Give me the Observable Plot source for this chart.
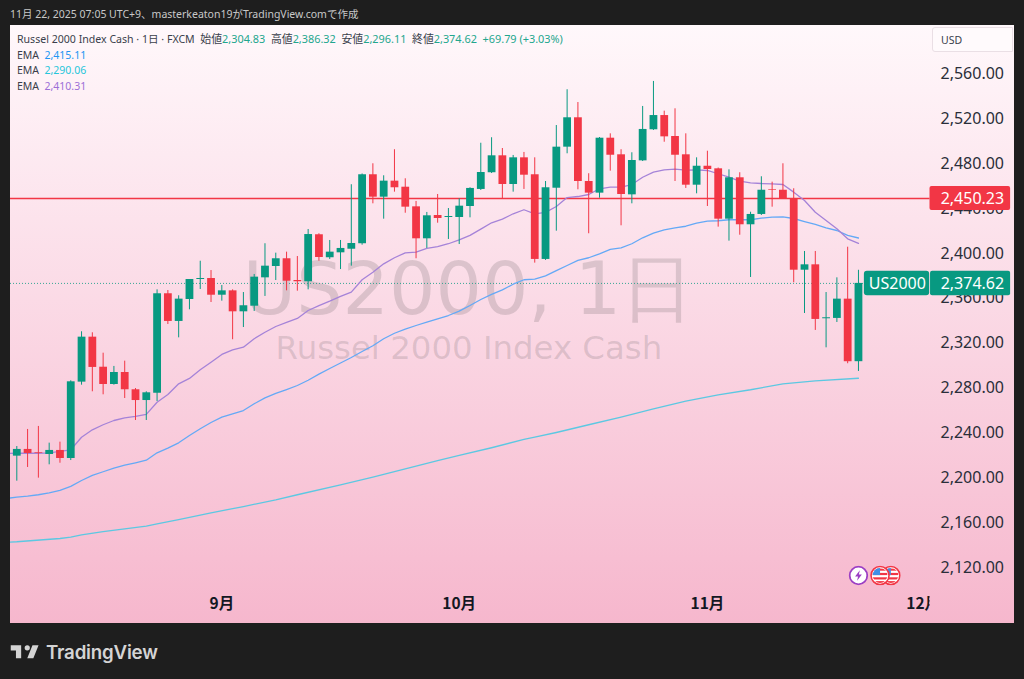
<!DOCTYPE html>
<html lang="ja">
<head>
<meta charset="utf-8">
<script src="https://cdn.jsdelivr.net/npm/d3@7"></script>
<script src="https://cdn.jsdelivr.net/npm/@observablehq/plot@0.6"></script>
<style>
html,body{margin:0;padding:0;background:#1e1e1e;overflow:hidden}
#wrap{position:relative;width:1024px;height:679px;font-family:"Noto Sans","Noto Sans CJK JP",sans-serif}
#wrap svg{display:block;position:relative}
#panel{position:absolute;left:10px;top:25px;width:1004px;height:598px;background:linear-gradient(#fff8fb,#f6b7cd)}
.t{position:absolute;white-space:pre;line-height:16px}
#stamp{left:10px;top:6px;font-size:10.5px;color:#c8c8c8}
.leg{left:17px;font-size:10.5px;color:#3a3f4b}
.leg b{font-weight:400}
.row1{font-size:10.88px}
.row1 i{font-style:normal;font-size:10.58px}
#usd{left:932px;top:27px;width:81px;height:25px;background:#fffafc;border:1px solid #eadfe5;border-radius:3px 0 0 3px;box-sizing:border-box;font-size:10.5px;color:#3a3f4b;line-height:24px;padding-left:8px}
#logo{left:46px;top:641px;font-family:Inter,"Noto Sans",sans-serif;font-weight:600;font-size:18.7px;line-height:24px;color:#d4d4d4;letter-spacing:-.2px}
#mark{position:absolute;left:9.3px;top:640px}
</style>
</head>
<body>
<div id="wrap"><div id="panel"></div></div>
<script>
// candles, oldest first (prices)
const opens  = [2220.6,2226.6,2223.6,2222.1,2225.7,2218.5,2286.6,2326.7,2299.9,2284.5,2295.2,2279.8,2270.2,2276.7,2365.4,2340.7,2360.3,2378.1,2379,2364.1,2368,2349.3,2354.3,2379.6,2389.7,2396.6,2377.2,2376.1,2418,2397.5,2401.9,2405.1,2410,2471.5,2451.5,2465.8,2460.4,2442.9,2414.4,2435.2,2433.4,2433.4,2443.2,2458.4,2473.3,2488.4,2462.8,2486.6,2471.5,2396,2459.5,2496.1,2522.3,2465.5,2455.1,2504.1,2489.3,2453.6,2483.9,2511.6,2524.3,2505.6,2489.3,2462.2,2479.1,2476.8,2431.9,2468.8,2426.9,2436.1,2458.1,2457.7,2450.3,2386.4,2391.2,2343.1,2343.4,2360.6,2304.83];
const highs  = [2229.2,2244.4,2247.1,2232.2,2233.1,2287.8,2331.5,2330.6,2312.4,2300.6,2305.3,2280.9,2278,2368.9,2368.3,2363.6,2378.1,2394.4,2386.1,2372.8,2368.9,2366.5,2382.6,2410,2401.6,2402.5,2398.6,2422.7,2418.9,2412.9,2412.9,2462.6,2472.2,2481.3,2470.6,2493.8,2467.9,2447.7,2437.9,2453.9,2441.4,2450.1,2459.9,2499.6,2504.5,2494.9,2488.7,2491.4,2486.6,2465.5,2515.4,2547.3,2535.9,2472.4,2504.7,2508,2493.8,2491.1,2532.4,2554.7,2528.2,2530.3,2508,2486.6,2492.5,2477.5,2475.9,2473.3,2438.1,2469.7,2464.9,2481.3,2459,2403.1,2403.1,2366.5,2379.6,2406.9,2386.32];
const lows   = [2198.3,2210.5,2201,2212.9,2214.3,2216.7,2283.9,2278,2275.3,2283.9,2272,2252.4,2252.4,2269.3,2338,2326.1,2351.1,2369.2,2357.6,2358.8,2324.4,2335.3,2349.6,2363,2377.2,2368,2367.7,2368.9,2394.4,2396,2387,2390,2408.7,2445.6,2431.9,2456,2437.2,2396.6,2405.8,2428.3,2413.8,2409.3,2433.1,2457.5,2472.6,2450.1,2456,2458.4,2392.7,2395.1,2421.2,2490.2,2458.1,2418.9,2450.6,2474.7,2426,2445.6,2483.3,2511,2500.5,2465.5,2459.3,2454.5,2443.2,2424.8,2412.3,2417.6,2379.9,2435.2,2442.6,2449.9,2375.2,2347.8,2332.7,2317.2,2339.8,2303,2296.11];
const closes = [2226.6,2223,2223,2225.7,2218.5,2286.9,2326.7,2299.7,2284.5,2295.2,2279.8,2270.2,2277.1,2365.4,2340.7,2360.6,2378.1,2379,2364.1,2368,2349.3,2354.7,2380.2,2390,2396.6,2376.6,2376.1,2418.2,2397.7,2402.5,2405.8,2410.2,2471.5,2451.5,2465.8,2459.9,2442.6,2414.4,2434.9,2432.5,2434.3,2443.5,2459.3,2473.5,2488.4,2462.8,2486.6,2471.1,2396,2459.9,2496.1,2522.3,2465.5,2455.1,2504.1,2488.9,2453.9,2484.2,2511.9,2524.3,2505.3,2488.9,2462.2,2479.1,2476.2,2431.9,2468.8,2426.9,2436.1,2457.7,2457.5,2450.3,2386.4,2391.2,2342.5,2344,2360.6,2304.8,2374.62];

// moving averages; the first value of each belongs to the bar before the first candle
const emaFast = [2223,2223.2,2223.2,2223.2,2223.6,2224.8,2226.3,2237.5,2244.1,2248.6,2252.4,2254.8,2256,2257.8,2268.7,2275.6,2285.1,2289.9,2297.6,2304.4,2311.3,2315.4,2317.8,2325.3,2331.1,2336.2,2339.8,2343.4,2350.5,2354.9,2358.8,2363,2366.8,2377.9,2384.6,2392.1,2397.5,2401.9,2402.5,2405.8,2407.5,2410,2413.5,2417.4,2423,2428.7,2431.9,2436.7,2440.3,2436.7,2437.9,2443.2,2451.2,2452.1,2453.9,2459,2460.4,2460.4,2462.8,2469.3,2473.8,2475.9,2476.5,2475.6,2475.9,2475.3,2472.4,2469.3,2465.8,2464.3,2463.7,2463.4,2462.8,2456,2448.6,2438.1,2430.7,2423.3,2414.4,2410.31];
const emaMid = [2182.9,2184,2184.9,2186.2,2187.9,2190,2193.6,2198.9,2203.4,2206.7,2209.9,2212.6,2214.7,2217,2223.6,2227.7,2232.5,2239,2245,2250.6,2255.4,2258.4,2261.3,2267.3,2272.6,2276.5,2280,2283.6,2288.3,2293.7,2298.8,2303.7,2308.6,2313.9,2319,2325.3,2330.2,2333.8,2337.1,2340,2343.1,2346,2349.9,2354.9,2360.3,2364.8,2368.9,2373.9,2377.9,2378.4,2381.4,2386.1,2390.6,2395.1,2397.5,2401,2404.9,2406.4,2410,2415.3,2419.4,2422.4,2424.2,2425.6,2428.3,2430.1,2430.5,2431.4,2431.4,2431.4,2432.8,2433.7,2434,2432.5,2429.8,2427.2,2424.2,2421.8,2417.4,2415.11];
const emaSlowBars = [-1,0,4,5,6,8,10,12,13,15,18,21,24,26,30,33,36,39,41,44,47,48,50,53,56,59,62,65,68,71,74,78];
const emaSlow = [2143.8,2144.3,2147.2,2148.4,2150.5,2153.4,2155.8,2158.2,2160.3,2164.1,2170.1,2175.7,2181.7,2186.2,2195.1,2201.9,2209.3,2216.7,2221.2,2228.1,2235.5,2237.5,2241.7,2248.6,2255.4,2262.8,2269.6,2275.3,2279.8,2285.1,2287.8,2290.06];

const priceTicks = [2120,2160,2200,2240,2280,2320,2360,2400,2440,2480,2520,2560];
const monthBars = [19,41,64,84];
const monthLabels = ["9月","10月","11月","12月"];
const hline = 2450.23;
const lastPrice = 2374.62;

const UP = "#089981", DOWN = "#f23645";
const candles = opens.map((o,i)=>({i,o,h:highs[i],l:lows[i],c:closes[i],col:closes[i]>=o?UP:DOWN}));
const fast = emaFast.map((v,k)=>({i:k-1,v}));
const mid = emaMid.map((v,k)=>({i:k-1,v}));
const slow = emaSlow.map((v,k)=>({i:emaSlowBars[k],v}));

const svgUrl = s => "data:image/svg+xml;utf8," + encodeURIComponent(s);
const flag = svgUrl(`<svg xmlns="http://www.w3.org/2000/svg" viewBox="0 0 20 20"><circle cx="10" cy="10" r="9" fill="#fff" stroke="#f23645" stroke-width="1.6"/><clipPath id="c"><circle cx="10" cy="10" r="7.4"/></clipPath><g clip-path="url(#c)"><rect width="20" height="20" fill="#fff"/><rect y="3" width="20" height="2.2" fill="#f23645"/><rect y="7.4" width="20" height="2.2" fill="#f23645"/><rect y="11.8" width="20" height="2.2" fill="#f23645"/><rect y="15.6" width="20" height="2.2" fill="#f23645"/><rect width="10" height="9.6" fill="#3f8fe6"/></g></svg>`);
const bolt = svgUrl(`<svg xmlns="http://www.w3.org/2000/svg" viewBox="0 0 20 20"><circle cx="10" cy="10" r="8.8" fill="#fff" stroke="#9c3fc4" stroke-width="1.8"/><path d="M11.4 4.8 6.6 11h3l-1 4.2 4.8-6.2h-3z" fill="#9c3fc4"/></svg>`);

const wmFont = '"DejaVu Sans",sans-serif';
const numFont = '"Noto Sans",sans-serif';

const chart = Plot.plot({
  width:1024, height:679,
  marginLeft:10, marginRight:94.5, marginTop:25, marginBottom:56,
  style:{background:"transparent", fontFamily:numFont, overflow:"visible"},
  x:{type:"linear", domain:[-0.584,84.63], axis:null},
  y:{type:"linear", domain:[2071.4,2604.58], axis:null},
  marks:[
    Plot.text(["US2000, 1日"],{x:[41.86],y:[2368.3],text:d=>d,fontFamily:wmFont,fontSize:73,fill:"#444",fillOpacity:.17}),
    Plot.text(["Russel 2000 Index Cash"],{x:[41.9],y:[2316.6],text:d=>d,fontFamily:wmFont,fontSize:32.4,fill:"#444",fillOpacity:.17}),
    Plot.ruleY([lastPrice],{stroke:UP,strokeWidth:1,strokeDasharray:"1,2",strokeOpacity:.8}),
    Plot.ruleY([hline],{stroke:DOWN,strokeWidth:1.5}),
    Plot.line(slow,{x:"i",y:"v",stroke:"#5cc8e2",strokeWidth:1.3,clip:true}),
    Plot.line(mid,{x:"i",y:"v",stroke:"#64a9f6",strokeWidth:1.3,clip:true}),
    Plot.line(fast,{x:"i",y:"v",stroke:"#a583d8",strokeWidth:1.3,clip:true}),
    Plot.ruleX(candles,{x:"i",y1:"l",y2:"h",stroke:"col",strokeWidth:1}),
    Plot.ruleX(candles,{x:"i",y1:"o",y2:"c",stroke:"col",strokeWidth:7.8}),
    Plot.text(monthBars,{x:d=>d,frameAnchor:"bottom",dy:-19,lineAnchor:"middle",text:(d,i)=>monthLabels[i],fontSize:15.5,fontWeight:600,fontFamily:'"Noto Sans CJK JP",sans-serif',fill:"#131722",clip:"frame"}),
    Plot.axisY({anchor:"right",ticks:priceTicks,tickSize:0,tickPadding:10.5,tickFormat:d3.format(",.2f"),fontSize:16,dy:-1.5,fill:"#2a2e39",label:null}),
    Plot.image([{i:81},{i:80}],{x:"i",y:()=>2114.2,src:()=>flag,width:20,height:20}),
    Plot.image([{i:78}],{x:"i",y:()=>2114.2,src:()=>bolt,width:20,height:20}),
    Plot.rect([hline],{x1:()=>84.63,x2:()=>92.1,y1:d=>d-10.7,y2:d=>d+10.7,fill:DOWN,rx:2}),
    Plot.rect([lastPrice],{x1:()=>78.55,x2:()=>84.6,y1:d=>d-10.9,y2:d=>d+10.9,fill:UP,rx:3}),
    Plot.rect([lastPrice],{x1:()=>84.68,x2:()=>92.1,y1:d=>d-10.9,y2:d=>d+10.9,fill:UP,rx:2}),
    Plot.text([hline],{x:()=>85.62,y:d=>d,text:d=>d3.format(",.2f")(d),fill:"#fff",fontSize:16,textAnchor:"start"}),
    Plot.text([lastPrice],{x:()=>85.62,y:d=>d,text:d=>d3.format(",.2f")(d),fill:"#fff",fontSize:16,textAnchor:"start"}),
    Plot.text(["US2000"],{x:()=>81.6,y:()=>lastPrice,text:d=>d,fill:"#fff",fontSize:16})
  ]
});
const wrap = document.getElementById("wrap");
wrap.appendChild(chart);

const G = "#22a68d";
const addText = (id,cls,html,top) => {
  const e = document.createElement("div");
  e.className = "t"+(cls?" "+cls:"");
  if(id) e.id = id;
  if(top!=null) e.style.top = top+"px";
  e.innerHTML = html;
  wrap.appendChild(e);
};
addText("stamp","","11月 22, 2025 07:05 UTC+9、masterkeaton19がTradingView.comで作成");
addText(null,"leg row1",`<i>Russel 2000 Index Cash · 1日 · FXCM</i>  始値<b style="color:${G}">2,304.83</b>  高値<b style="color:${G}">2,386.32</b>  安値<b style="color:${G}">2,296.11</b>  終値<b style="color:${G}">2,374.62</b>  <b style="color:${G}">+69.79 (+3.03%)</b>`,31);
addText(null,"leg",`EMA  <b style="color:#2196f3">2,415.11</b>`,47);
addText(null,"leg",`EMA  <b style="color:#26c6da">2,290.06</b>`,62);
addText(null,"leg",`EMA  <b style="color:#9c6fd6">2,410.31</b>`,78);
addText("usd","","USD");
addText("logo","","TradingView");
const m = document.createElementNS("http://www.w3.org/2000/svg","svg");
m.setAttribute("id","mark");m.setAttribute("width","31.3");m.setAttribute("height","24.4");m.setAttribute("viewBox","0 0 36 28");
m.innerHTML='<path fill="#d4d4d4" d="M14 6H2v6h6v9h6V6zm14 15h-7l6-15h7l-6 15zm-7-9a3 3 0 1 0 0-6 3 3 0 0 0 0 6z"/>';
m.style.position="absolute";
wrap.appendChild(m);
</script>
</body>
</html>
